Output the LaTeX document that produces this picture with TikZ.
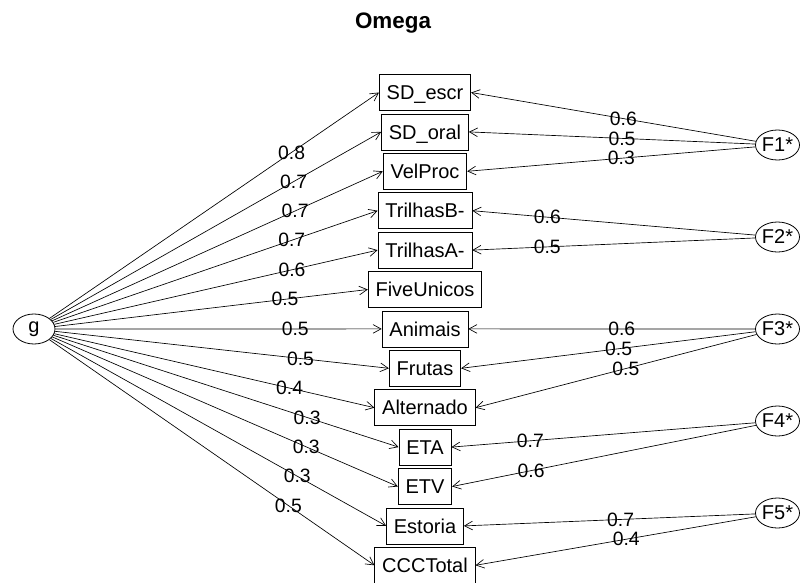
\documentclass[tikz,border=0pt]{standalone}
\usepackage{fontspec}
\setmainfont{Liberation Sans}
\usetikzlibrary{arrows.meta,shapes.geometric}
\begin{document}
\begin{tikzpicture}[x=0.75pt,y=-0.75pt,
  var/.style={draw,line width=0.6pt,minimum height=27pt,inner xsep=5.5pt,inner ysep=0pt,
    text height=10.8pt,text depth=0pt,font=\fontsize{15}{18}\selectfont},
  lat/.style={draw,ellipse,line width=0.6pt,minimum width=31.5pt,minimum height=22.5pt,
    inner sep=0pt,font=\fontsize{15}{18}\selectfont},
  ld/.style={-{Straight Barb[length=6pt,width=6.5pt]},line width=0.5pt},
  lab/.style={font=\fontsize{14.5}{17}\selectfont,inner sep=0pt}
]
\useasboundingbox (0,0) rectangle (806,582);
\node[font=\bfseries\fontsize{16.8}{20}\selectfont,anchor=base] (title) at (393,28) {Omega};

\node[var] (v1)  at (425,92.5)  {SD\_escr};
\node[var] (v2)  at (425,131.9) {SD\_oral};
\node[var] (v3)  at (425,171.3) {VelProc};
\node[var] (v4)  at (425,210.7) {TrilhasB-};
\node[var] (v5)  at (425,250.1) {TrilhasA-};
\node[var] (v6)  at (425,289.5) {FiveUnicos};
\node[var] (v7)  at (425,328.9) {Animais};
\node[var] (v8)  at (425,368.3) {Frutas};
\node[var] (v9)  at (425,407.7) {Alternado};
\node[var] (v10) at (425,447.1) {ETA};
\node[var] (v11) at (425,486.5) {ETV};
\node[var] (v12) at (425,525.9) {Estoria};
\node[var] (v13) at (425,565.3) {CCCTotal};

\node[lat] (g)  at (34,329)    {g};
\node[lat] (F1) at (777.5,145) {F1*};
\node[lat] (F2) at (777.5,237) {F2*};
\node[lat] (F3) at (777.5,329) {F3*};
\node[lat] (F4) at (777.5,421) {F4*};
\node[lat] (F5) at (777.5,513) {F5*};

\draw[ld] (g) -- node[lab,pos=0.735]{0.8} (v1.west);
\draw[ld] (g) -- node[lab,pos=0.735]{0.7} (v2.west);
\draw[ld] (g) -- node[lab,pos=0.735]{0.7} (v3.west);
\draw[ld] (g) -- node[lab,pos=0.735]{0.7} (v4.west);
\draw[ld] (g) -- node[lab,pos=0.735]{0.6} (v5.west);
\draw[ld] (g) -- node[lab,pos=0.735]{0.5} (v6.west);
\draw[ld] (g) -- node[lab,pos=0.735]{0.5} (v7.west);
\draw[ld] (g) -- node[lab,pos=0.735]{0.5} (v8.west);
\draw[ld] (g) -- node[lab,pos=0.735]{0.4} (v9.west);
\draw[ld] (g) -- node[lab,pos=0.735]{0.3} (v10.west);
\draw[ld] (g) -- node[lab,pos=0.735]{0.3} (v11.west);
\draw[ld] (g) -- node[lab,pos=0.735]{0.3} (v12.west);
\draw[ld] (g) -- node[lab,pos=0.735]{0.5} (v13.west);

\draw[ld] (F1) -- node[lab,pos=0.465]{0.6} (v1.east);
\draw[ld] (F1) -- node[lab,pos=0.465]{0.5} (v2.east);
\draw[ld] (F1) -- node[lab,pos=0.465]{0.3} (v3.east);
\draw[ld] (F2) -- node[lab,pos=0.735]{0.6} (v4.east);
\draw[ld] (F2) -- node[lab,pos=0.735]{0.5} (v5.east);
\draw[ld] (F3) -- node[lab,pos=0.465]{0.6} (v7.east);
\draw[ld] (F3) -- node[lab,pos=0.465]{0.5} (v8.east);
\draw[ld] (F3) -- node[lab,pos=0.465]{0.5} (v9.east);
\draw[ld] (F4) -- node[lab,pos=0.74]{0.7} (v10.east);
\draw[ld] (F4) -- node[lab,pos=0.74]{0.6} (v11.east);
\draw[ld] (F5) -- node[lab,pos=0.462]{0.7} (v12.east);
\draw[ld] (F5) -- node[lab,pos=0.462]{0.4} (v13.east);
\end{tikzpicture}
\end{document}
